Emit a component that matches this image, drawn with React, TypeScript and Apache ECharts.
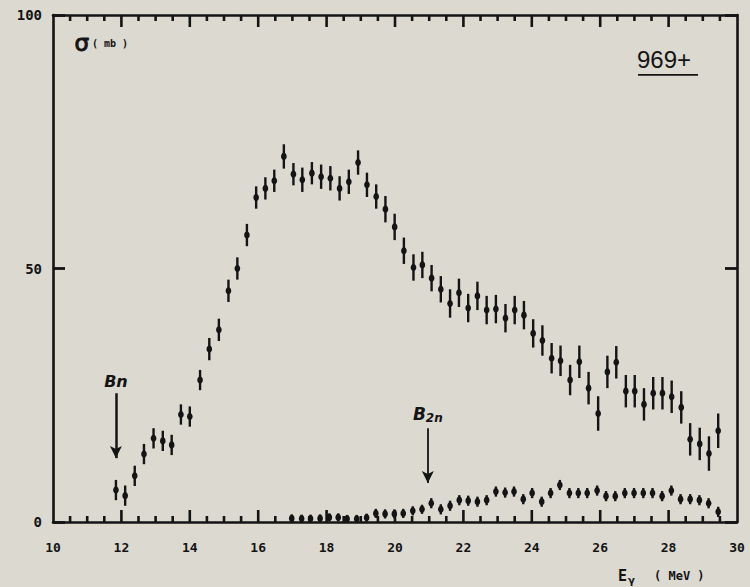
import React, { useEffect, useRef } from "react";
import * as echarts from "echarts";

// Photon energy (MeV) and total photoneutron cross section (mb)
const energies = [
  11.84, 12.11, 12.39, 12.66, 12.94, 13.21, 13.47, 13.74, 14.0, 14.3, 14.57, 14.85,
  15.13, 15.39, 15.67, 15.94, 16.21, 16.47, 16.75, 17.03, 17.29, 17.57, 17.84, 18.11,
  18.38, 18.65, 18.92, 19.18, 19.45, 19.72, 19.99, 20.26, 20.54, 20.8, 21.07, 21.34,
  21.61, 21.87, 22.14, 22.41, 22.68, 22.95, 23.23, 23.5, 23.77, 24.04, 24.31, 24.58,
  24.84, 25.12, 25.39, 25.66, 25.94, 26.21, 26.47, 26.75, 27.01, 27.28, 27.55, 27.82,
  28.09, 28.37, 28.63, 28.91, 29.18, 29.45,
];
const sigmaTotal = [
  6.3, 5.2, 9.1, 13.4, 16.5, 16.0, 15.2, 21.2, 20.8, 28.0, 34.1, 37.9,
  45.6, 50.0, 56.6, 64.0, 65.8, 67.3, 72.1, 68.6, 67.5, 68.8, 68.1, 67.8,
  65.8, 67.1, 70.9, 66.5, 64.2, 61.7, 58.2, 53.5, 50.2, 50.7, 48.1, 45.9,
  43.1, 45.2, 42.2, 44.6, 41.8, 42.0, 40.2, 41.8, 40.8, 37.2, 35.8, 32.3,
  31.8, 28.0, 31.6, 26.4, 21.4, 29.6, 31.5, 25.8, 25.8, 23.2, 25.4, 25.4,
  24.7, 22.6, 16.3, 15.4, 13.5, 18.0,
];
const errTotal = [
  2.0, 2.0, 2.0, 2.0, 2.0, 2.0, 2.0, 2.0, 2.0, 2.0, 2.2, 2.2,
  2.2, 2.2, 2.2, 2.2, 2.2, 2.2, 2.4, 2.2, 2.4, 2.2, 2.4, 2.4,
  2.4, 2.4, 2.4, 2.4, 2.4, 2.6, 2.6, 2.6, 2.6, 2.6, 2.6, 2.6,
  2.8, 2.8, 2.8, 2.8, 2.8, 2.8, 2.8, 2.8, 2.8, 2.8, 3.0, 3.0,
  3.0, 3.0, 3.2, 3.2, 3.4, 3.2, 3.2, 3.2, 3.2, 3.2, 3.2, 3.2,
  3.2, 3.2, 3.2, 3.2, 3.4, 3.4,
];

// (γ,2n) cross section
const energies2n = [
  16.98, 17.27, 17.53, 17.81, 18.08, 18.34, 18.6, 18.88, 19.17, 19.44, 19.71, 19.98,
  20.24, 20.52, 20.79, 21.06, 21.34, 21.61, 21.88, 22.14, 22.41, 22.68, 22.95, 23.22,
  23.48, 23.75, 24.01, 24.29, 24.55, 24.82, 25.1, 25.36, 25.62, 25.91, 26.17, 26.44,
  26.72, 26.99, 27.26, 27.53, 27.81, 28.08, 28.35, 28.63, 28.9, 29.17, 29.45,
];
const sigma2n = [
  0.7, 0.65, 0.65, 0.7, 0.9, 0.9, 0.6, 0.6, 0.85, 1.7, 1.6, 1.6,
  1.7, 2.2, 2.5, 3.7, 2.5, 3.2, 4.3, 4.2, 4.0, 4.3, 6.0, 5.8,
  6.0, 4.5, 5.7, 4.0, 5.7, 7.3, 5.7, 5.7, 5.7, 6.2, 5.1, 5.1,
  5.7, 5.7, 5.7, 5.7, 5.1, 6.2, 4.5, 4.5, 4.3, 3.7, 2.0,
];
const err2n = [
  0.8, 0.8, 0.8, 0.8, 0.8, 0.8, 0.8, 0.8, 0.8, 0.9, 0.9, 0.9,
  0.9, 0.9, 0.9, 1.0, 1.0, 1.0, 1.0, 1.0, 1.0, 1.0, 1.0, 1.0,
  1.0, 1.0, 1.0, 1.0, 1.0, 1.0, 1.0, 1.0, 1.0, 1.0, 1.0, 1.0,
  1.0, 1.0, 1.0, 1.0, 1.0, 1.0, 1.0, 1.0, 1.0, 1.0, 1.0,
];

// axis ticks (MeV): labelled major ticks and 0.5 MeV minor ticks
const xTicks = [10, 12, 14, 16, 18, 20, 22, 24, 26, 28, 30];
const xMinorTicks = [
  10.5, 11, 11.5, 12.5, 13, 13.5, 14.5, 15, 15.5, 16.5, 17, 17.5,
  18.5, 19, 19.5, 20.5, 21, 21.5, 22.5, 23, 23.5, 24.5, 25, 25.5,
  26.5, 27, 27.5, 28.5, 29, 29.5,
];
const yTicks = [0, 50, 100];

// threshold markers: [energy, arrow top σ, arrow tip σ]
const bnMarker = [11.84, 25.4, 12.6];
const b2nMarker = [20.96, 18.5, 7.7];

const INK = "#141414";
const BG = "#dcd9d0";
const FONT = "'DejaVu Sans Mono', monospace";

function renderErr(params: any, api: any) {
  const x = api.value(0);
  const y = api.value(1);
  const e = api.value(2);
  const c = api.coord([x, y]);
  const t = api.coord([x, y + e]);
  const b = api.coord([x, y - e]);
  return {
    type: "group",
    children: [
      {
        type: "line",
        shape: { x1: c[0], y1: t[1], x2: c[0], y2: b[1] },
        style: { stroke: INK, lineWidth: 2.4 },
      },
      {
        type: "ellipse",
        shape: { cx: c[0], cy: c[1], rx: 2.8, ry: 3.6 },
        style: { fill: INK },
      },
    ],
  };
}

const textGraphics = [
  {
    type: "text",
    left: 74,
    top: 31,
    style: { text: "σ", font: "23px 'DejaVu Sans', sans-serif", fill: INK, stroke: INK, lineWidth: 1 },
  },
  {
    type: "text",
    left: 92,
    top: 38,
    style: { text: "( mb )", font: "bold 10px 'DejaVu Sans Mono', monospace", fill: INK },
  },
  {
    type: "text",
    left: 637,
    top: 47,
    style: { text: "969+", font: "24px 'Liberation Sans', sans-serif", fill: INK },
  },
  {
    type: "rect",
    shape: { x: 638, y: 74, width: 60, height: 1.8 },
    style: { fill: INK },
  },
  {
    type: "text",
    left: 618,
    top: 568,
    style: { text: "E", font: "bold 15px 'DejaVu Sans Mono', monospace", fill: INK },
  },
  {
    type: "text",
    left: 628,
    top: 575,
    style: { text: "γ", font: "bold 10px 'DejaVu Sans', sans-serif", fill: INK },
  },
  {
    type: "text",
    left: 654,
    top: 570,
    style: { text: "( MeV )", font: "bold 12px 'DejaVu Sans Mono', monospace", fill: INK },
  },
];

export default function App() {
  const ref = useRef<HTMLDivElement>(null);
  useEffect(() => {
    document.body.style.margin = "0";
    document.body.style.background = BG;
    const chart = echarts.init(ref.current!, undefined, { renderer: "svg" });
    const totalData = energies.map((e, i) => [e, sigmaTotal[i], errTotal[i]]);
    const data2n = energies2n.map((e, i) => [e, sigma2n[i], err2n[i]]);
    const axisLine = { show: true, onZero: false, lineStyle: { color: INK, width: 2.6 } };
    const xCommon = {
      type: "value" as const,
      min: 10,
      max: 30,
      interval: 2,
      splitLine: { show: false },
      axisLine,
      axisTick: { show: false },
    };
    const yCommon = {
      type: "value" as const,
      min: 0,
      max: 100,
      interval: 50,
      splitLine: { show: false },
      axisLine,
      axisTick: { show: true, inside: true, length: 12, lineStyle: { color: INK, width: 2.8 } },
    };
    chart.setOption({
      animation: false,
      backgroundColor: BG,
      grid: { left: 53, right: 13, top: 15, bottom: 65, containLabel: false },
      xAxis: [
        {
          ...xCommon,
          position: "bottom",
          axisLabel: {
            show: true,
            fontFamily: FONT,
            fontWeight: "bold",
            fontSize: 13,
            color: INK,
            margin: 19,
            formatter: (v: number) => (xTicks.includes(v) ? String(v) : ""),
          },
        },
        { ...xCommon, position: "top", axisLabel: { show: false } },
      ],
      yAxis: [
        {
          ...yCommon,
          position: "left",
          axisLabel: {
            show: true,
            fontFamily: FONT,
            fontWeight: "bold",
            fontSize: 14,
            color: INK,
            margin: 11,
            formatter: (v: number) => (yTicks.includes(v) ? String(v) : ""),
          },
        },
        { ...yCommon, position: "right", axisLabel: { show: false } },
      ],
      series: [
        {
          type: "custom",
          name: "total",
          renderItem: renderErr,
          data: totalData,
          encode: { x: 0, y: 1 },
          clip: false,
          markLine: {
            silent: true,
            symbol: ["none", "arrow"],
            symbolSize: [9, 12],
            lineStyle: { color: INK, width: 2.5, type: "solid" },
            label: { show: false },
            data: [
              [
                {
                  coord: [bnMarker[0], bnMarker[1]],
                  label: {
                    show: true,
                    position: "start",
                    distance: 4,
                    formatter: "Bn",
                    fontFamily: "'DejaVu Sans', sans-serif",
                    fontStyle: "italic",
                    fontWeight: "bold",
                    fontSize: 16,
                    color: INK,
                  },
                },
                { coord: [bnMarker[0], bnMarker[2]] },
              ],
              [
                {
                  coord: [b2nMarker[0], b2nMarker[1]],
                  lineStyle: { width: 1.8 },
                  label: {
                    show: true,
                    position: "start",
                    distance: 4,
                    formatter: "{b|B}{s|2n}",
                    rich: {
                      b: {
                        fontFamily: "'DejaVu Sans', sans-serif",
                        fontStyle: "italic",
                        fontWeight: "bold",
                        fontSize: 17,
                        color: INK,
                      },
                      s: {
                        fontFamily: "'DejaVu Sans', sans-serif",
                        fontStyle: "italic",
                        fontWeight: "bold",
                        fontSize: 12,
                        color: INK,
                        padding: [8, 0, 0, 0],
                      },
                    },
                  },
                },
                { coord: [b2nMarker[0], b2nMarker[2]], lineStyle: { width: 1.8 } },
              ],
            ],
          },
        },
        {
          type: "custom",
          name: "2n",
          renderItem: renderErr,
          data: data2n,
          encode: { x: 0, y: 1 },
          clip: false,
        },
      ],
    });

    // frame ticks on top and bottom edges, positioned through the axis scale
    const finder = { xAxisIndex: 0, yAxisIndex: 0 };
    const tickMarks: any[] = [];
    const addTick = (v: number, len: number) => {
      const b = chart.convertToPixel(finder, [v, 0]) as number[];
      const t = chart.convertToPixel(finder, [v, 100]) as number[];
      tickMarks.push({
        type: "rect",
        z: 50,
        shape: { x: b[0] - 1.3, y: b[1] - len, width: 2.6, height: len },
        style: { fill: INK },
      });
      tickMarks.push({
        type: "rect",
        z: 50,
        shape: { x: t[0] - 1.3, y: t[1], width: 2.6, height: len },
        style: { fill: INK },
      });
    };
    xTicks.filter((v) => v > 10 && v < 30).forEach((v) => addTick(v, 12));
    xMinorTicks.forEach((v) => addTick(v, 6));
    chart.setOption({ graphic: [...textGraphics, ...tickMarks] });

    return () => chart.dispose();
  }, []);
  return (
    <div
      ref={ref}
      style={{ position: "absolute", left: 0, top: 0, width: 750, height: 587 }}
    />
  );
}
